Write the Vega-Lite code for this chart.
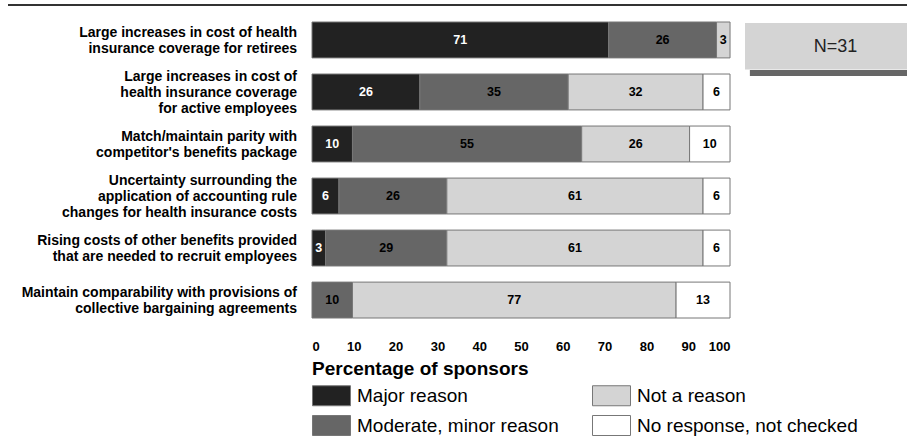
{
  "$schema": "https://vega.github.io/schema/vega-lite/v6.json",
  "padding": {"left": 7, "top": 4, "right": 0, "bottom": 0},
  "background": "white",
  "config": {"font": "Liberation Sans", "view": {"stroke": null}},
  "datasets": {
    "reasons": [
      {"reason": "Large increases in cost of health|insurance coverage for retirees"},
      {"reason": "Large increases in cost of|health insurance coverage|for active employees"},
      {"reason": "Match/maintain parity with|competitor's benefits package"},
      {"reason": "Uncertainty surrounding the|application of accounting rule|changes for health insurance costs"},
      {"reason": "Rising costs of other benefits provided|that are needed to recruit employees"},
      {"reason": "Maintain comparability with provisions of|collective bargaining agreements"}
    ],
    "shares": [
      {"reason": "Large increases in cost of health|insurance coverage for retirees", "cat": "Major reason", "ord": 1, "pct": 70.97},
      {"reason": "Large increases in cost of health|insurance coverage for retirees", "cat": "Moderate, minor reason", "ord": 2, "pct": 25.81},
      {"reason": "Large increases in cost of health|insurance coverage for retirees", "cat": "Not a reason", "ord": 3, "pct": 3.23},
      {"reason": "Large increases in cost of|health insurance coverage|for active employees", "cat": "Major reason", "ord": 1, "pct": 25.81},
      {"reason": "Large increases in cost of|health insurance coverage|for active employees", "cat": "Moderate, minor reason", "ord": 2, "pct": 35.48},
      {"reason": "Large increases in cost of|health insurance coverage|for active employees", "cat": "Not a reason", "ord": 3, "pct": 32.26},
      {"reason": "Large increases in cost of|health insurance coverage|for active employees", "cat": "No response, not checked", "ord": 4, "pct": 6.45},
      {"reason": "Match/maintain parity with|competitor's benefits package", "cat": "Major reason", "ord": 1, "pct": 9.68},
      {"reason": "Match/maintain parity with|competitor's benefits package", "cat": "Moderate, minor reason", "ord": 2, "pct": 54.84},
      {"reason": "Match/maintain parity with|competitor's benefits package", "cat": "Not a reason", "ord": 3, "pct": 25.81},
      {"reason": "Match/maintain parity with|competitor's benefits package", "cat": "No response, not checked", "ord": 4, "pct": 9.68},
      {"reason": "Uncertainty surrounding the|application of accounting rule|changes for health insurance costs", "cat": "Major reason", "ord": 1, "pct": 6.45},
      {"reason": "Uncertainty surrounding the|application of accounting rule|changes for health insurance costs", "cat": "Moderate, minor reason", "ord": 2, "pct": 25.81},
      {"reason": "Uncertainty surrounding the|application of accounting rule|changes for health insurance costs", "cat": "Not a reason", "ord": 3, "pct": 61.29},
      {"reason": "Uncertainty surrounding the|application of accounting rule|changes for health insurance costs", "cat": "No response, not checked", "ord": 4, "pct": 6.45},
      {"reason": "Rising costs of other benefits provided|that are needed to recruit employees", "cat": "Major reason", "ord": 1, "pct": 3.23},
      {"reason": "Rising costs of other benefits provided|that are needed to recruit employees", "cat": "Moderate, minor reason", "ord": 2, "pct": 29.03},
      {"reason": "Rising costs of other benefits provided|that are needed to recruit employees", "cat": "Not a reason", "ord": 3, "pct": 61.29},
      {"reason": "Rising costs of other benefits provided|that are needed to recruit employees", "cat": "No response, not checked", "ord": 4, "pct": 6.45},
      {"reason": "Maintain comparability with provisions of|collective bargaining agreements", "cat": "Moderate, minor reason", "ord": 2, "pct": 9.68},
      {"reason": "Maintain comparability with provisions of|collective bargaining agreements", "cat": "Not a reason", "ord": 3, "pct": 77.42},
      {"reason": "Maintain comparability with provisions of|collective bargaining agreements", "cat": "No response, not checked", "ord": 4, "pct": 12.9}
    ]
  },
  "bounds": "flush",
  "spacing": 15,
  "resolve": {"scale": {"color": "independent"}, "legend": {"color": "independent"}},
  "hconcat": [
    {
      "width": 289,
      "height": 296,
      "resolve": {"scale": {"y": "independent"}},
      "layer": [
        {
          "data": {"values": [{"x0": 0, "x1": 3.114, "y0": -0.0574}]},
          "mark": {"type": "rule", "color": "#333333", "strokeWidth": 2},
          "encoding": {
            "x": {"field": "x0", "type": "quantitative", "scale": {"domain": [0, 1]}, "axis": null},
            "x2": {"field": "x1"},
            "y": {"field": "y0", "type": "quantitative", "scale": {"domain": [0, 1], "reverse": true}, "axis": null}
          }
        },
        {
          "data": {"name": "reasons"},
          "encoding": {
            "y": {
              "field": "reason",
              "type": "nominal",
              "sort": null,
              "scale": {
                "type": "band",
                "paddingInner": 0.31,
                "paddingOuter": 0,
                "domain": [
                  "Large increases in cost of health|insurance coverage for retirees",
                  "Large increases in cost of|health insurance coverage|for active employees",
                  "Match/maintain parity with|competitor's benefits package",
                  "Uncertainty surrounding the|application of accounting rule|changes for health insurance costs",
                  "Rising costs of other benefits provided|that are needed to recruit employees",
                  "Maintain comparability with provisions of|collective bargaining agreements"
                ]
              },
              "axis": null
            },
            "x": {"datum": 1, "type": "quantitative"},
            "text": {"field": "reason"}
          },
          "layer": [
            {
              "transform": [{"filter": "length(split(datum.reason, '|')) == 2"}],
              "mark": {"type": "text", "align": "right", "baseline": "middle", "lineBreak": "|", "lineHeight": 16, "fontSize": 14, "fontWeight": "bold", "color": "black", "dy": -7}
            },
            {
              "transform": [{"filter": "length(split(datum.reason, '|')) == 3"}],
              "mark": {"type": "text", "align": "right", "baseline": "middle", "lineBreak": "|", "lineHeight": 16, "fontSize": 14, "fontWeight": "bold", "color": "black", "dy": -15}
            }
          ]
        }
      ]
    },
    {
      "width": 418,
      "height": 296,
      "data": {"name": "shares"},
      "encoding": {
        "y": {
          "field": "reason",
          "type": "nominal",
          "sort": null,
          "scale": {"paddingInner": 0.31, "paddingOuter": 0},
          "axis": null
        }
      },
      "layer": [
        {
          "mark": {"type": "bar", "stroke": "#777777", "strokeWidth": 1},
          "encoding": {
            "x": {
              "field": "pct",
              "type": "quantitative",
              "stack": "zero",
              "scale": {"domain": [0, 100], "nice": false},
              "axis": {
                "title": null,
                "values": [0, 10, 20, 30, 40, 50, 60, 70, 80, 90, 100],
                "labelFontSize": 13,
                "labelFontWeight": "bold",
                "labelColor": "black",
                "labelPadding": 22,
                "ticks": false,
                "domain": false,
                "grid": false
              }
            },
            "color": {
              "field": "cat",
              "type": "nominal",
              "scale": {
                "domain": ["Major reason", "Not a reason", "Moderate, minor reason", "No response, not checked"],
                "range": ["#222222", "#d4d4d4", "#666666", "#ffffff"]
              },
              "legend": {
                "title": "Percentage of sponsors",
                "orient": "bottom",
                "direction": "horizontal",
                "columns": 2,
                "columnPadding": 31,
                "rowPadding": 5,
                "symbolType": "M-1,-1H2.8V1H-1Z",
                "symbolSize": 400,
                "symbolStrokeColor": "#777777",
                "symbolStrokeWidth": 1,
                "symbolOpacity": 1,
                "labelFontSize": 19,
                "labelColor": "black",
                "labelOffset": 24,
                "labelLimit": 400,
                "titleFontSize": 19,
                "titleFontWeight": "bold",
                "titleColor": "black",
                "titleLimit": 500,
                "titlePadding": 6,
                "offset": 7,
                "padding": 0
              }
            },
            "order": {"field": "ord", "type": "quantitative"}
          }
        },
        {
          "mark": {"type": "rule", "color": "black", "strokeWidth": 2},
          "encoding": {"x": {"datum": 0, "type": "quantitative"}}
        },
        {
          "mark": {"type": "text", "fontSize": 12.5, "fontWeight": "bold", "baseline": "middle", "align": "center"},
          "encoding": {
            "x": {"field": "pct", "type": "quantitative", "stack": "zero", "bandPosition": 0.5},
            "detail": {"field": "cat"},
            "order": {"field": "ord", "type": "quantitative"},
            "text": {"field": "pct", "type": "quantitative", "format": ".0f"},
            "fill": {"condition": {"test": "datum.cat === 'Major reason'", "value": "white"}, "value": "black"}
          }
        }
      ]
    },
    {
      "width": 163,
      "height": 54,
      "layer": [
        {
          "data": {"values": [{"x0": 0.03, "x1": 1, "y0": 0.89, "y1": 1}]},
          "mark": {"type": "rect", "color": "#666666"},
          "encoding": {
            "x": {"field": "x0", "type": "quantitative", "scale": {"domain": [0, 1]}, "axis": null},
            "x2": {"field": "x1"},
            "y": {"field": "y0", "type": "quantitative", "scale": {"domain": [0, 1], "reverse": true}, "axis": null},
            "y2": {"field": "y1"}
          }
        },
        {
          "data": {"values": [{"x0": 0, "x1": 1, "y0": 0.02, "y1": 0.88}]},
          "mark": {"type": "rect", "color": "#d4d4d4"},
          "encoding": {
            "x": {"field": "x0", "type": "quantitative"},
            "x2": {"field": "x1"},
            "y": {"field": "y0", "type": "quantitative"},
            "y2": {"field": "y1"}
          }
        },
        {
          "data": {"values": [{"t": "N=31", "x": 0.555, "y": 0.46}]},
          "mark": {"type": "text", "fontSize": 18, "baseline": "middle", "align": "center", "color": "#222222"},
          "encoding": {
            "x": {"field": "x", "type": "quantitative"},
            "y": {"field": "y", "type": "quantitative"},
            "text": {"field": "t"}
          }
        }
      ]
    }
  ]
}
